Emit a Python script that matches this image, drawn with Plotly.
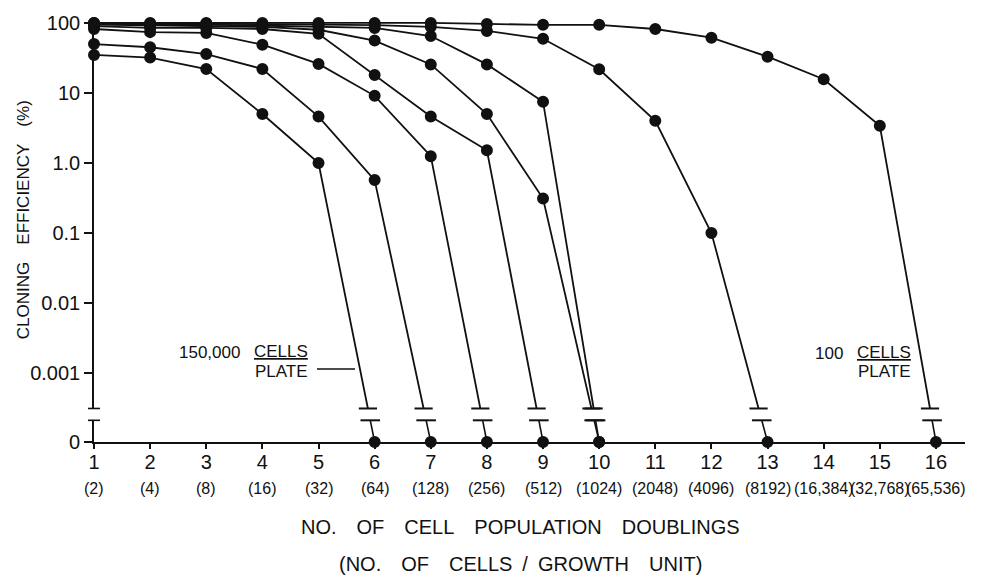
import math
import plotly.graph_objects as go

# Cloning efficiency (%) per population doubling for each plating density series.
# Each series falls to zero colonies at the doubling right after its last value.
doublings = list(range(1, 17))
cells_per_unit = ["(2)", "(4)", "(8)", "(16)", "(32)", "(64)", "(128)", "(256)", "(512)",
                  "(1024)", "(2048)", "(4096)", "(8192)", "(16,384)", "(32,768)", "(65,536)"]

series_a = [35, 32, 22, 5.0, 1.0]
series_b = [50, 45, 36, 22, 4.6, 0.57]
series_c = [82, 74, 72, 49, 26, 9.1, 1.25]
series_d = [90, 85, 85, 82, 70, 18, 4.6, 1.52]
series_e = [95, 92, 90, 88, 80, 56, 25.6, 5.0, 0.31]
series_f = [98, 95, 95, 92, 90, 85, 65, 25.6, 7.5]
series_g = [100, 98, 98, 96, 95, 93, 88, 77, 59.5, 21.8, 4.0, 0.1]
series_h = [100, 100, 100, 100, 100, 100, 100, 97, 94, 94, 82, 61.6, 33, 15.7, 3.4]
all_series = [series_a, series_b, series_c, series_d, series_e, series_f, series_g, series_h]
zero_value = 0

y_tickvals = [100, 10, 1, 0.1, 0.01, 0.001]
y_ticktext = ["100", "10", "1.0", "0.1", "0.01", "0.001"]

# ---- layout geometry ----
W, H = 988, 581
ML, MR, MT, MB = 94, 23, 15, 139
PW, PH = W - ML - MR, H - MT - MB
X_PER_UNIT = 56.13
x_range = [1, 1 + PW / X_PER_UNIT]

# upper (log) panel and lower (zero) panel, separated by an axis break
d_up0 = (442 - 408) / PH
d_low1 = (442 - 420) / PH
log_lo = (159 - 408) / 71.0
log_hi = log_lo + (408 - 15) / 71.0
low_range = [0, 1]


def frac_upper(v):
    return d_up0 + (math.log10(v) - log_lo) / (log_hi - log_lo) * (1 - d_up0)


def px_to_paper(px, py):
    return (px - ML) / PW, (H - MB - py) / PH


INK = "#111111"
FONT = "Liberation Sans, Arial, sans-serif"

fig = go.Figure()

for vals in all_series:
    n = len(vals)
    xs = doublings[:n]
    x_last, x_end = xs[-1], xs[-1] + 1
    f_last = frac_upper(vals[-1])
    # straight drop from the last point to zero, split by the axis break
    x_cut_up = x_last + (x_end - x_last) * (f_last - d_up0) / f_last
    x_cut_low = x_last + (x_end - x_last) * (f_last - d_low1) / f_last

    fig.add_trace(go.Scatter(
        x=xs + [x_cut_up], y=vals + [10 ** log_lo],
        xaxis="x", yaxis="y", mode="lines+markers",
        line=dict(color=INK, width=1.8),
        marker=dict(color=INK, opacity=1, symbol=["circle"] * n + ["line-ew"],
                    size=[10] * n + [13], line=dict(color=INK, width=2)),
        cliponaxis=False, showlegend=False, hoverinfo="skip"))

    fig.add_trace(go.Scatter(
        x=[x_cut_low, x_end], y=[low_range[1], zero_value],
        xaxis="x", yaxis="y2", mode="lines+markers",
        line=dict(color=INK, width=1.6),
        marker=dict(color=INK, opacity=1, symbol=["line-ew", "circle"], size=[14, 10],
                    line=dict(color=INK, width=2)),
        cliponaxis=False, showlegend=False, hoverinfo="skip"))

axis_common = dict(showgrid=False, zeroline=False, showline=True, linecolor=INK,
                   ticks="outside", tickcolor=INK, tickfont=dict(family=FONT, size=20, color=INK))

fig.update_layout(
    width=W, height=H,
    margin=dict(l=ML, r=MR, t=MT, b=MB, pad=0),
    paper_bgcolor="white", plot_bgcolor="white",
    xaxis=dict(range=x_range, anchor="y2", tickvals=doublings,
               ticktext=[str(d) for d in doublings], ticklen=5, tickwidth=1.5,
               ticklabelstandoff=-4, linewidth=2, **axis_common),
    yaxis=dict(type="log", range=[log_lo, log_hi], domain=[d_up0, 1], anchor="x",
               tickvals=y_tickvals, ticktext=y_ticktext, ticklen=8, tickwidth=1.5,
               linewidth=1.6, **axis_common),
    yaxis2=dict(range=low_range, domain=[0, d_low1], anchor="x",
                tickvals=[0], ticktext=["0"], ticklen=8, tickwidth=1.5,
                linewidth=1.6, **axis_common),
)

# caps marking the break on the vertical axis
shapes = []
for yref, yv in (("y domain", 0), ("y2 domain", 1)):
    shapes.append(dict(type="line", xref="paper", yref=yref,
                       x0=-6 / PW, x1=6 / PW, y0=yv, y1=yv,
                       line=dict(color=INK, width=1.6)))
# pointer next to the high-density label
p0 = px_to_paper(317, 368)
p1 = px_to_paper(355, 368)
shapes.append(dict(type="line", xref="paper", yref="paper",
                   x0=p0[0], x1=p1[0], y0=p0[1], y1=p1[1],
                   line=dict(color=INK, width=1.6)))
fig.update_layout(shapes=shapes)

annotations = []


def add_text(text, px, py, size=17, angle=0, xanchor="center"):
    ax, ay = px_to_paper(px, py)
    annotations.append(dict(text=text, x=ax, y=ay, xref="paper", yref="paper",
                            showarrow=False, xanchor=xanchor, yanchor="middle",
                            textangle=angle, font=dict(family=FONT, size=size, color=INK)))


# second row of x tick labels: cells per growth unit
for d, lab in zip(doublings, cells_per_unit):
    annotations.append(dict(text=lab, x=d, y=(H - MB - 489) / PH, xref="x", yref="paper",
                            showarrow=False, xanchor="center", yanchor="middle",
                            font=dict(family=FONT, size=16, color=INK)))

add_text("150,000", 209, 351)
add_text("<u>CELLS</u>", 281, 350)
add_text("PLATE", 281, 370)
add_text("100", 829, 352)
add_text("<u>CELLS</u>", 884, 351)
add_text("PLATE", 884, 371)

add_text("NO.\u2003OF\u2003CELL\u2003POPULATION\u2003DOUBLINGS", 520, 528, size=20)
add_text("(NO.\u2003OF\u2003CELLS\u2002/\u2002GROWTH\u2003UNIT)", 520, 566, size=20)
add_text("CLONING\u2002\u2002EFFICIENCY\u2002\u2002(%)", 23, 217, size=17, angle=-90)

fig.update_layout(annotations=annotations)

fig.write_html("out.html")
